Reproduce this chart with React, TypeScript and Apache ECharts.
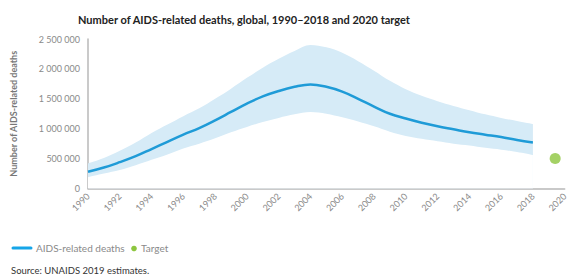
import React, { useEffect, useRef } from "react";
import * as echarts from "echarts";

const years = [1990,1991,1992,1993,1994,1995,1996,1997,1998,1999,2000,2001,2002,2003,2004,2005,2006,2007,2008,2009,2010,2011,2012,2013,2014,2015,2016,2017,2018];
const deaths = [280000,350000,440000,540000,660000,780000,900000,1010000,1140000,1280000,1420000,1540000,1630000,1700000,1740000,1700000,1620000,1500000,1370000,1250000,1170000,1100000,1040000,990000,940000,900000,860000,810000,770000];
const upper = [420000,510000,630000,770000,930000,1070000,1210000,1340000,1500000,1670000,1850000,2020000,2170000,2300000,2400000,2360000,2270000,2130000,1970000,1800000,1660000,1550000,1460000,1380000,1310000,1240000,1180000,1130000,1080000];
const lower = [190000,250000,310000,390000,480000,570000,670000,750000,840000,940000,1030000,1110000,1180000,1240000,1280000,1250000,1190000,1120000,1040000,950000,880000,830000,790000,750000,720000,680000,650000,610000,560000];
const targetYear = [2019.4];
const targetValue = [500000];
const yTicks = [0, 500000, 1000000, 1500000, 2000000, 2500000];

const BLUE = "#1f9bd7";
const BAND = "#d6ebf7";
const GREEN = "#8dc63f";
const FONT = "Lato, 'Open Sans', sans-serif";

export default function App() {
  const ref = useRef<HTMLDivElement>(null);
  useEffect(() => {
    if (!ref.current) return;
    const chart = echarts.init(ref.current, undefined, { renderer: "svg" });
    const fmt = (v: number) => String(v).replace(/\B(?=(\d{3})+(?!\d))/g, " ");
    chart.setOption({
      animation: false,
      textStyle: { fontFamily: FONT },
      grid: { left: 88, right: 3, top: 39, bottom: 86.5, containLabel: false },
      xAxis: {
        type: "value",
        min: 1990,
        max: 2020,
        interval: 2,
        axisLine: { show: true, lineStyle: { color: "#b8b8b8", width: 1.5 } },
        axisTick: { show: false },
        splitLine: { show: false },
        axisLabel: { rotate: 45, color: "#8a8a8a", fontSize: 9, margin: 6, formatter: (v: number) => String(v) },
      },
      yAxis: {
        type: "value",
        min: 0,
        max: yTicks[yTicks.length - 1],
        interval: 500000,
        name: "Number of AIDS-related deaths",
        nameLocation: "middle",
        nameGap: 70,
        nameTextStyle: { color: "#777777", fontSize: 9, fontWeight: "bold" },
        axisLine: { show: true, lineStyle: { color: "#b8b8b8", width: 1.5 } },
        axisTick: { show: false },
        splitLine: { show: false },
        axisLabel: { color: "#8a8a8a", fontSize: 9, margin: 8, formatter: fmt },
      },
      series: [
        {
          name: "upper",
          type: "line",
          smooth: 0.35,
          symbol: "none",
          lineStyle: { width: 0, color: BAND },
          areaStyle: { color: BAND, opacity: 1 },
          data: years.map((y, i) => [y, upper[i]]),
          silent: true,
          z: 1,
        },
        {
          name: "lower",
          type: "line",
          smooth: 0.35,
          symbol: "none",
          lineStyle: { width: 0, color: "#fff" },
          areaStyle: { color: "#ffffff", opacity: 1 },
          data: years.map((y, i) => [y, lower[i]]),
          silent: true,
          z: 1,
        },
        {
          name: "AIDS-related deaths",
          type: "line",
          smooth: 0.4,
          symbol: "none",
          lineStyle: { color: BLUE, width: 2.5 },
          data: years.map((y, i) => [y, deaths[i]]),
          z: 3,
        },
        {
          name: "Target",
          type: "scatter",
          symbolSize: 11,
          itemStyle: { color: GREEN },
          data: targetYear.map((y, i) => [y, targetValue[i]]),
          z: 3,
        },
      ],
      graphic: [
        {
          type: "text",
          left: 78,
          top: 14,
          style: { text: "Number of AIDS-related deaths, global, 1990–2018 and 2020 target", fill: "#222", font: `bold 11px ${FONT}` },
        },
        { type: "line", shape: { x1: 13, y1: 248, x2: 31, y2: 248 }, style: { stroke: "#16a5e8", lineWidth: 3, lineCap: "round" } },
        { type: "text", left: 36, top: 243, style: { text: "AIDS-related deaths", fill: "#8a8a8a", font: `10px ${FONT}` } },
        { type: "circle", shape: { cx: 134, cy: 248.5, r: 2.8 }, style: { fill: GREEN } },
        { type: "text", left: 141, top: 243, style: { text: "Target", fill: "#8a8a8a", font: `10px ${FONT}` } },
        { type: "text", left: 11, top: 265, style: { text: "Source: UNAIDS 2019 estimates.", fill: "#333", font: `9.5px ${FONT}` } },
      ],
    });
    return () => chart.dispose();
  }, []);
  return <div ref={ref} style={{ position: "fixed", left: 0, top: 0, width: 570, height: 275, background: "#fff" }} />;
}
